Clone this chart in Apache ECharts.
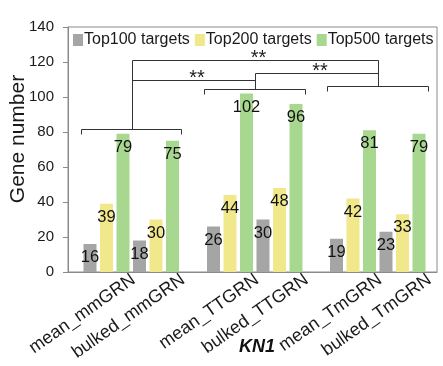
<!DOCTYPE html>
<html><head><meta charset="utf-8">
<script src="https://cdn.jsdelivr.net/npm/echarts@6/dist/echarts.min.js"></script>
<style>html,body{margin:0;padding:0;background:#fff}#c{width:443px;height:366px}</style>
</head><body><div id="c"></div>
<script>
// ---- data ----
const categories = ['mean_mmGRN','bulked_mmGRN','mean_TTGRN','bulked_TTGRN','mean_TmGRN','bulked_TmGRN'];
const seriesNames = ['Top100 targets','Top200 targets','Top500 targets'];
const top100 = [16,18,26,30,19,23];
const top200 = [39,30,44,48,42,33];
const top500 = [79,75,102,96,81,79];
const yTicks = [0,20,40,60,80,100,120,140];
// significance annotation (value units): bracket level over each GRN pair, and pair comparisons
const pairBracketLevels = [81.5,104.5,106.5];
const compA = [0,1,0];
const compB = [1,2,2];
const compLevels = [110,114,121];
const compLabels = ['**','**','**'];

// ---- chart ----
const FONT = 'Liberation Sans, Arial, sans-serif';
const colors = ['#a5a5a5','#f0e88a','#a8d78f'];
const axisGray = '#8a8a8a';
const seriesData = [top100, top200, top500];
const pairLefts = [81.75, 205.25, 328.25];
const TOP = 27, H = 245;
const yMin = yTicks[0], yMax = yTicks[yTicks.length-1], yStep = yTicks[1]-yTicks[0];

const grids = [{left:68, top:TOP, width:369, height:H, show:true, borderColor:axisGray, borderWidth:1, backgroundColor:'transparent', outerBoundsMode:'none', containLabel:false}];
const xAxes = [{gridIndex:0, type:'value', min:0, max:1, axisLine:{show:true, lineStyle:{color:axisGray}}, axisTick:{show:false}, axisLabel:{show:false}, splitLine:{show:false}}];
const yAxes = [{gridIndex:0, type:'value', min:yMin, max:yMax, interval:yStep,
  axisLine:{show:true, lineStyle:{color:axisGray}},
  axisTick:{show:true, inside:false, length:5, lineStyle:{color:axisGray}},
  axisLabel:{fontSize:15, fontFamily:FONT, color:'#1a1a1a', margin:14},
  splitLine:{show:false}}];
const series = [];
for (let p = 0; p < 3; p++) {
  grids.push({left:pairLefts[p], top:TOP, width:99, height:H, outerBoundsMode:'none', containLabel:false});
  xAxes.push({gridIndex:p+1, type:'category', data:categories.slice(2*p, 2*p+2),
    axisLine:{show:false}, axisTick:{show:false}, splitLine:{show:false},
    axisLabel:{interval:0, rotate:35, margin:25, fontSize:18, fontFamily:FONT, color:'#1a1a1a', padding:[0,-33,0,0], hideOverlap:false}});
  yAxes.push({gridIndex:p+1, type:'value', min:yMin, max:yMax, interval:yStep, show:false});
  for (let k = 0; k < 3; k++) {
    series.push({type:'bar', name:seriesNames[k], xAxisIndex:p+1, yAxisIndex:p+1,
      data:seriesData[k].slice(2*p, 2*p+2), barWidth:13, barGap:'27%',
      itemStyle:{color:colors[k]},
      label:{show:true, position:'insideTop', distance:5, fontSize:16.5, fontFamily:FONT, color:'#111'}});
  }
}

const chart = echarts.init(document.getElementById('c'), null, {renderer:'canvas'});
chart.setOption({
  animation:false,
  backgroundColor:'#fff',
  textStyle:{fontFamily:FONT},
  legend:{data:seriesNames, left:68, top:27, width:420, orient:'horizontal', icon:'rect', itemWidth:10, itemHeight:12, itemGap:5,
    textStyle:{fontSize:16, fontFamily:FONT, color:'#1a1a1a', padding:[0,0,0,-4]}},
  grid:grids, xAxis:xAxes, yAxis:yAxes, series:series
});

// ---- annotations from axis coordinates ----
function px(p, cat, val) { return chart.convertToPixel({xAxisIndex:p+1, yAxisIndex:p+1}, [cat, val]); }
const crisp = v => Math.round(v) + 0.5;
const g = [];
const lineStyle = {stroke:'#333', lineWidth:1, fill:null};
const mids = [], levelsY = [];
for (let p = 0; p < 3; p++) {
  const a = px(p, 0, pairBracketLevels[p]);
  const b = px(p, 1, pairBracketLevels[p]);
  const L = crisp(a[0] - 26), R = crisp(b[0] + 25), Y = crisp(a[1]);
  mids.push(crisp((L + R) / 2));
  levelsY.push(Y);
  g.push({type:'polyline', shape:{points:[[L, Y+5],[L, Y],[R, Y],[R, Y+5]]}, style:lineStyle, silent:true});
}
const stemTop = [Infinity, Infinity, Infinity];
for (let i = 0; i < compA.length; i++) {
  const y = crisp(px(0, 0, compLevels[i])[1]);
  stemTop[compA[i]] = Math.min(stemTop[compA[i]], y);
  stemTop[compB[i]] = Math.min(stemTop[compB[i]], y);
  const xa = mids[compA[i]], xb = mids[compB[i]];
  g.push({type:'polyline', shape:{points:[[xa, y],[xb, y]]}, style:lineStyle, silent:true});
  g.push({type:'text', x:(xa + xb) / 2 + 3, y:y - 2, style:{text:compLabels[i], font:'20px ' + FONT, fill:'#222', align:'center', verticalAlign:'middle'}, silent:true});
}
for (let p = 0; p < 3; p++) {
  g.push({type:'polyline', shape:{points:[[mids[p], levelsY[p]],[mids[p], stemTop[p]]]}, style:lineStyle, silent:true});
}
g.push({type:'text', x:18, y:139, rotation:Math.PI/2, style:{text:'Gene number', font:'21px ' + FONT, fill:'#1a1a1a', align:'center', verticalAlign:'middle'}, silent:true});
g.push({type:'text', x:254, y:-6, style:{text:'FLA4', font:'italic bold 20px ' + FONT, fill:'#111', align:'center', verticalAlign:'middle'}, silent:true});
g.push({type:'text', x:257, y:347, style:{text:'KN1', font:'italic bold 18px ' + FONT, fill:'#111', align:'center', verticalAlign:'middle'}, silent:true});
chart.setOption({graphic:g});
</script>
</body></html>
